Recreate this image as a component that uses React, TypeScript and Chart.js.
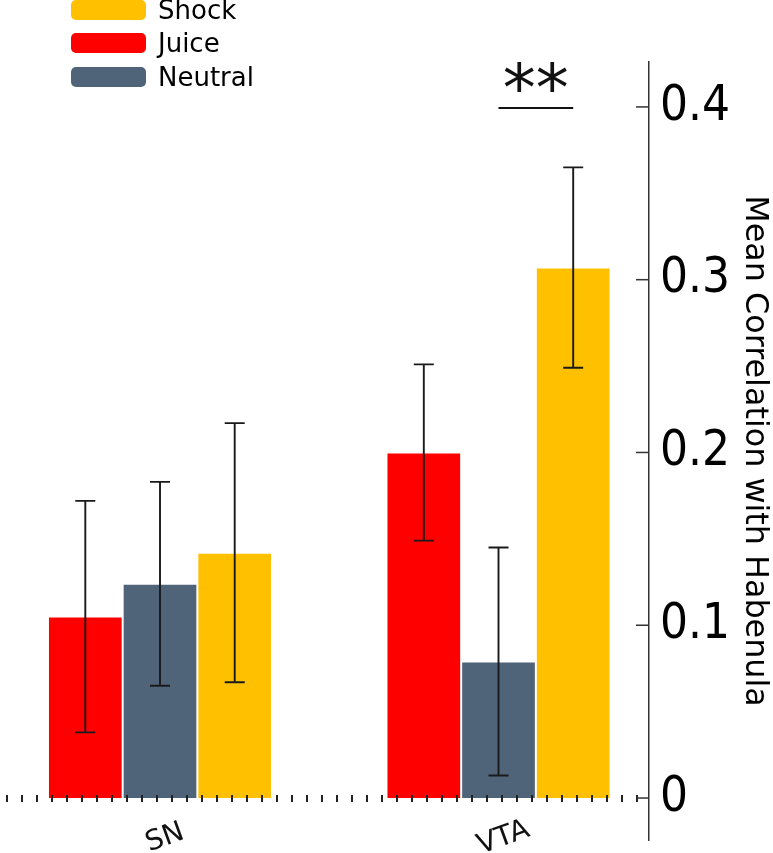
import { useEffect, useRef } from "react"
import { Chart, registerables } from "chart.js"

Chart.register(...registerables)

const categories = ["SN", "VTA"]
const juice = [0.105, 0.2]
const juiceErr = [0.067, 0.051]
const neutral = [0.124, 0.079]
const neutralErr = [0.059, 0.066]
const shock = [0.142, 0.307]
const shockErr = [0.075, 0.058]
const yTicks = [0, 0.1, 0.2, 0.3, 0.4]
const legendOrder = ["Shock", "Juice", "Neutral"]
const sigLevel = 0.4

const colors: Record<string, string> = {
  Juice: "#ff0000",
  Neutral: "#4f6479",
  Shock: "#ffc000",
}

const errors = [juiceErr, neutralErr, shockErr]

const chartPlugin = {
  id: "extras",
  afterDatasetsDraw(chart: any) {
    const { ctx } = chart
    const y = chart.scales.y
    const x = chart.scales.x
    ctx.save()
    ctx.strokeStyle = "#1a1a1a"
    ctx.lineWidth = 1.9
    chart.data.datasets.forEach((_: any, di: number) => {
      const meta = chart.getDatasetMeta(di)
      meta.data.forEach((bar: any, i: number) => {
        const v = chart.data.datasets[di].data[i].y
        const e = errors[di][i]
        const top = y.getPixelForValue(v + e)
        const bot = y.getPixelForValue(v - e)
        ctx.beginPath()
        ctx.moveTo(bar.x, top)
        ctx.lineTo(bar.x, bot)
        ctx.moveTo(bar.x - 10, top)
        ctx.lineTo(bar.x + 10, top)
        ctx.moveTo(bar.x - 10, bot)
        ctx.lineTo(bar.x + 10, bot)
        ctx.stroke()
      })
    })

    // dotted baseline
    const y0 = y.getPixelForValue(0)
    ctx.fillStyle = "#222"
    for (let px = 7; px <= 638; px += 15) {
      ctx.fillRect(px - 1, y0 - 3, 2, 7)
    }

    // inward y ticks
    ctx.strokeStyle = "#333"
    ctx.lineWidth = 1.5
    yTicks.forEach((t) => {
      const py = y.getPixelForValue(t)
      ctx.beginPath()
      ctx.moveTo(y.left - 13, py)
      ctx.lineTo(y.left, py)
      ctx.stroke()
    })

    // significance
    const a = chart.getDatasetMeta(1).data[1].x
    const b = chart.getDatasetMeta(2).data[1].x
    const sy = y.getPixelForValue(sigLevel) + 1
    ctx.strokeStyle = "#111"
    ctx.lineWidth = 2
    ctx.beginPath()
    ctx.moveTo(a, sy)
    ctx.lineTo(b, sy)
    ctx.stroke()
    ctx.fillStyle = "#111"
    ctx.font = "66px 'DejaVu Sans'"
    ctx.textAlign = "center"
    ctx.textBaseline = "alphabetic"
    ctx.fillText("**", (a + b) / 2, sy + 3)

    // category labels
    ctx.font = "28px 'DejaVu Sans'"
    ctx.textBaseline = "middle"
    categories.forEach((c, i) => {
      ctx.save()
      ctx.translate(x.getPixelForValue(i) + 5, 838)
      ctx.rotate((-20 * Math.PI) / 180)
      ctx.fillText(c, 0, 0)
      ctx.restore()
    })
    ctx.restore()
  },
}

export default function App() {
  const chartRef = useRef<HTMLCanvasElement>(null)
  const chartInstance = useRef<Chart | null>(null)

  useEffect(() => {
    if (!chartRef.current) return
    if (chartInstance.current) chartInstance.current.destroy()
    const ctx = chartRef.current.getContext("2d")
    if (!ctx) return

    const series = [
      { label: "Juice", values: juice },
      { label: "Neutral", values: neutral },
      { label: "Shock", values: shock },
    ]

    chartInstance.current = new Chart(ctx, {
      type: "bar",
      data: {
        datasets: series.map((s) => ({
          label: s.label,
          data: s.values.map((v, i) => ({ x: i, y: v })),
          backgroundColor: colors[s.label],
          borderColor: "#ffffff",
          borderWidth: 1,
          barPercentage: 1,
          categoryPercentage: 0.662,
        })),
      },
      options: {
        animation: false,
        responsive: true,
        maintainAspectRatio: false,
        layout: { padding: { top: 62, bottom: 13, left: 0, right: 0 } },
        plugins: {
          legend: { display: false },
          tooltip: { enabled: false },
        },
        scales: {
          x: {
            type: "linear",
            display: false,
            offset: false,
            min: -0.4727,
            max: 1.4446,
            afterBuildTicks: (scale: any) => {
              scale.ticks = categories.map((_, i) => ({ value: i }))
            },
          },
          y: {
            position: "right",
            min: -0.0243,
            max: 0.426,
            afterBuildTicks: (scale: any) => {
              scale.ticks = yTicks.map((v) => ({ value: v }))
            },
            afterFit: (scale: any) => {
              scale.width = 124
              scale.paddingTop = 0
              scale.paddingBottom = 0
            },
            grid: { display: false, drawTicks: false },
            border: { display: true, color: "#333", width: 1.5 },
            ticks: {
              padding: 11,
              color: "#000",
              font: { family: "'DejaVu Sans Condensed', 'DejaVu Sans'", size: 49 },
              callback: (v: any) => (v === 0 ? "0" : Number(v).toFixed(1)),
            },
            title: {
              display: true,
              text: "Mean Correlation with Habenula",
              color: "#000",
              padding: { top: 0, bottom: 0 },
              font: { family: "'DejaVu Sans'", size: 31.8 },
            },
          },
        },
      },
      plugins: [chartPlugin],
    })

    return () => {
      if (chartInstance.current) {
        chartInstance.current.destroy()
        chartInstance.current = null
      }
    }
  }, [])

  return (
    <div style={{ position: "absolute", left: 0, top: 0, width: 773, height: 853, background: "#fff" }}>
      <canvas ref={chartRef} />
      <div style={{ position: "absolute", left: 71, top: 0, fontFamily: "'DejaVu Sans'", fontSize: 26 }}>
        {legendOrder.map((name) => (
          <div key={name} style={{ display: "flex", alignItems: "center", height: 33.5, marginTop: name === "Shock" ? -7 : 0 }}>
            <div style={{ width: 75, height: 20, borderRadius: 5, background: colors[name], marginRight: 12 }} />
            <span>{name}</span>
          </div>
        ))}
      </div>
    </div>
  )
}
